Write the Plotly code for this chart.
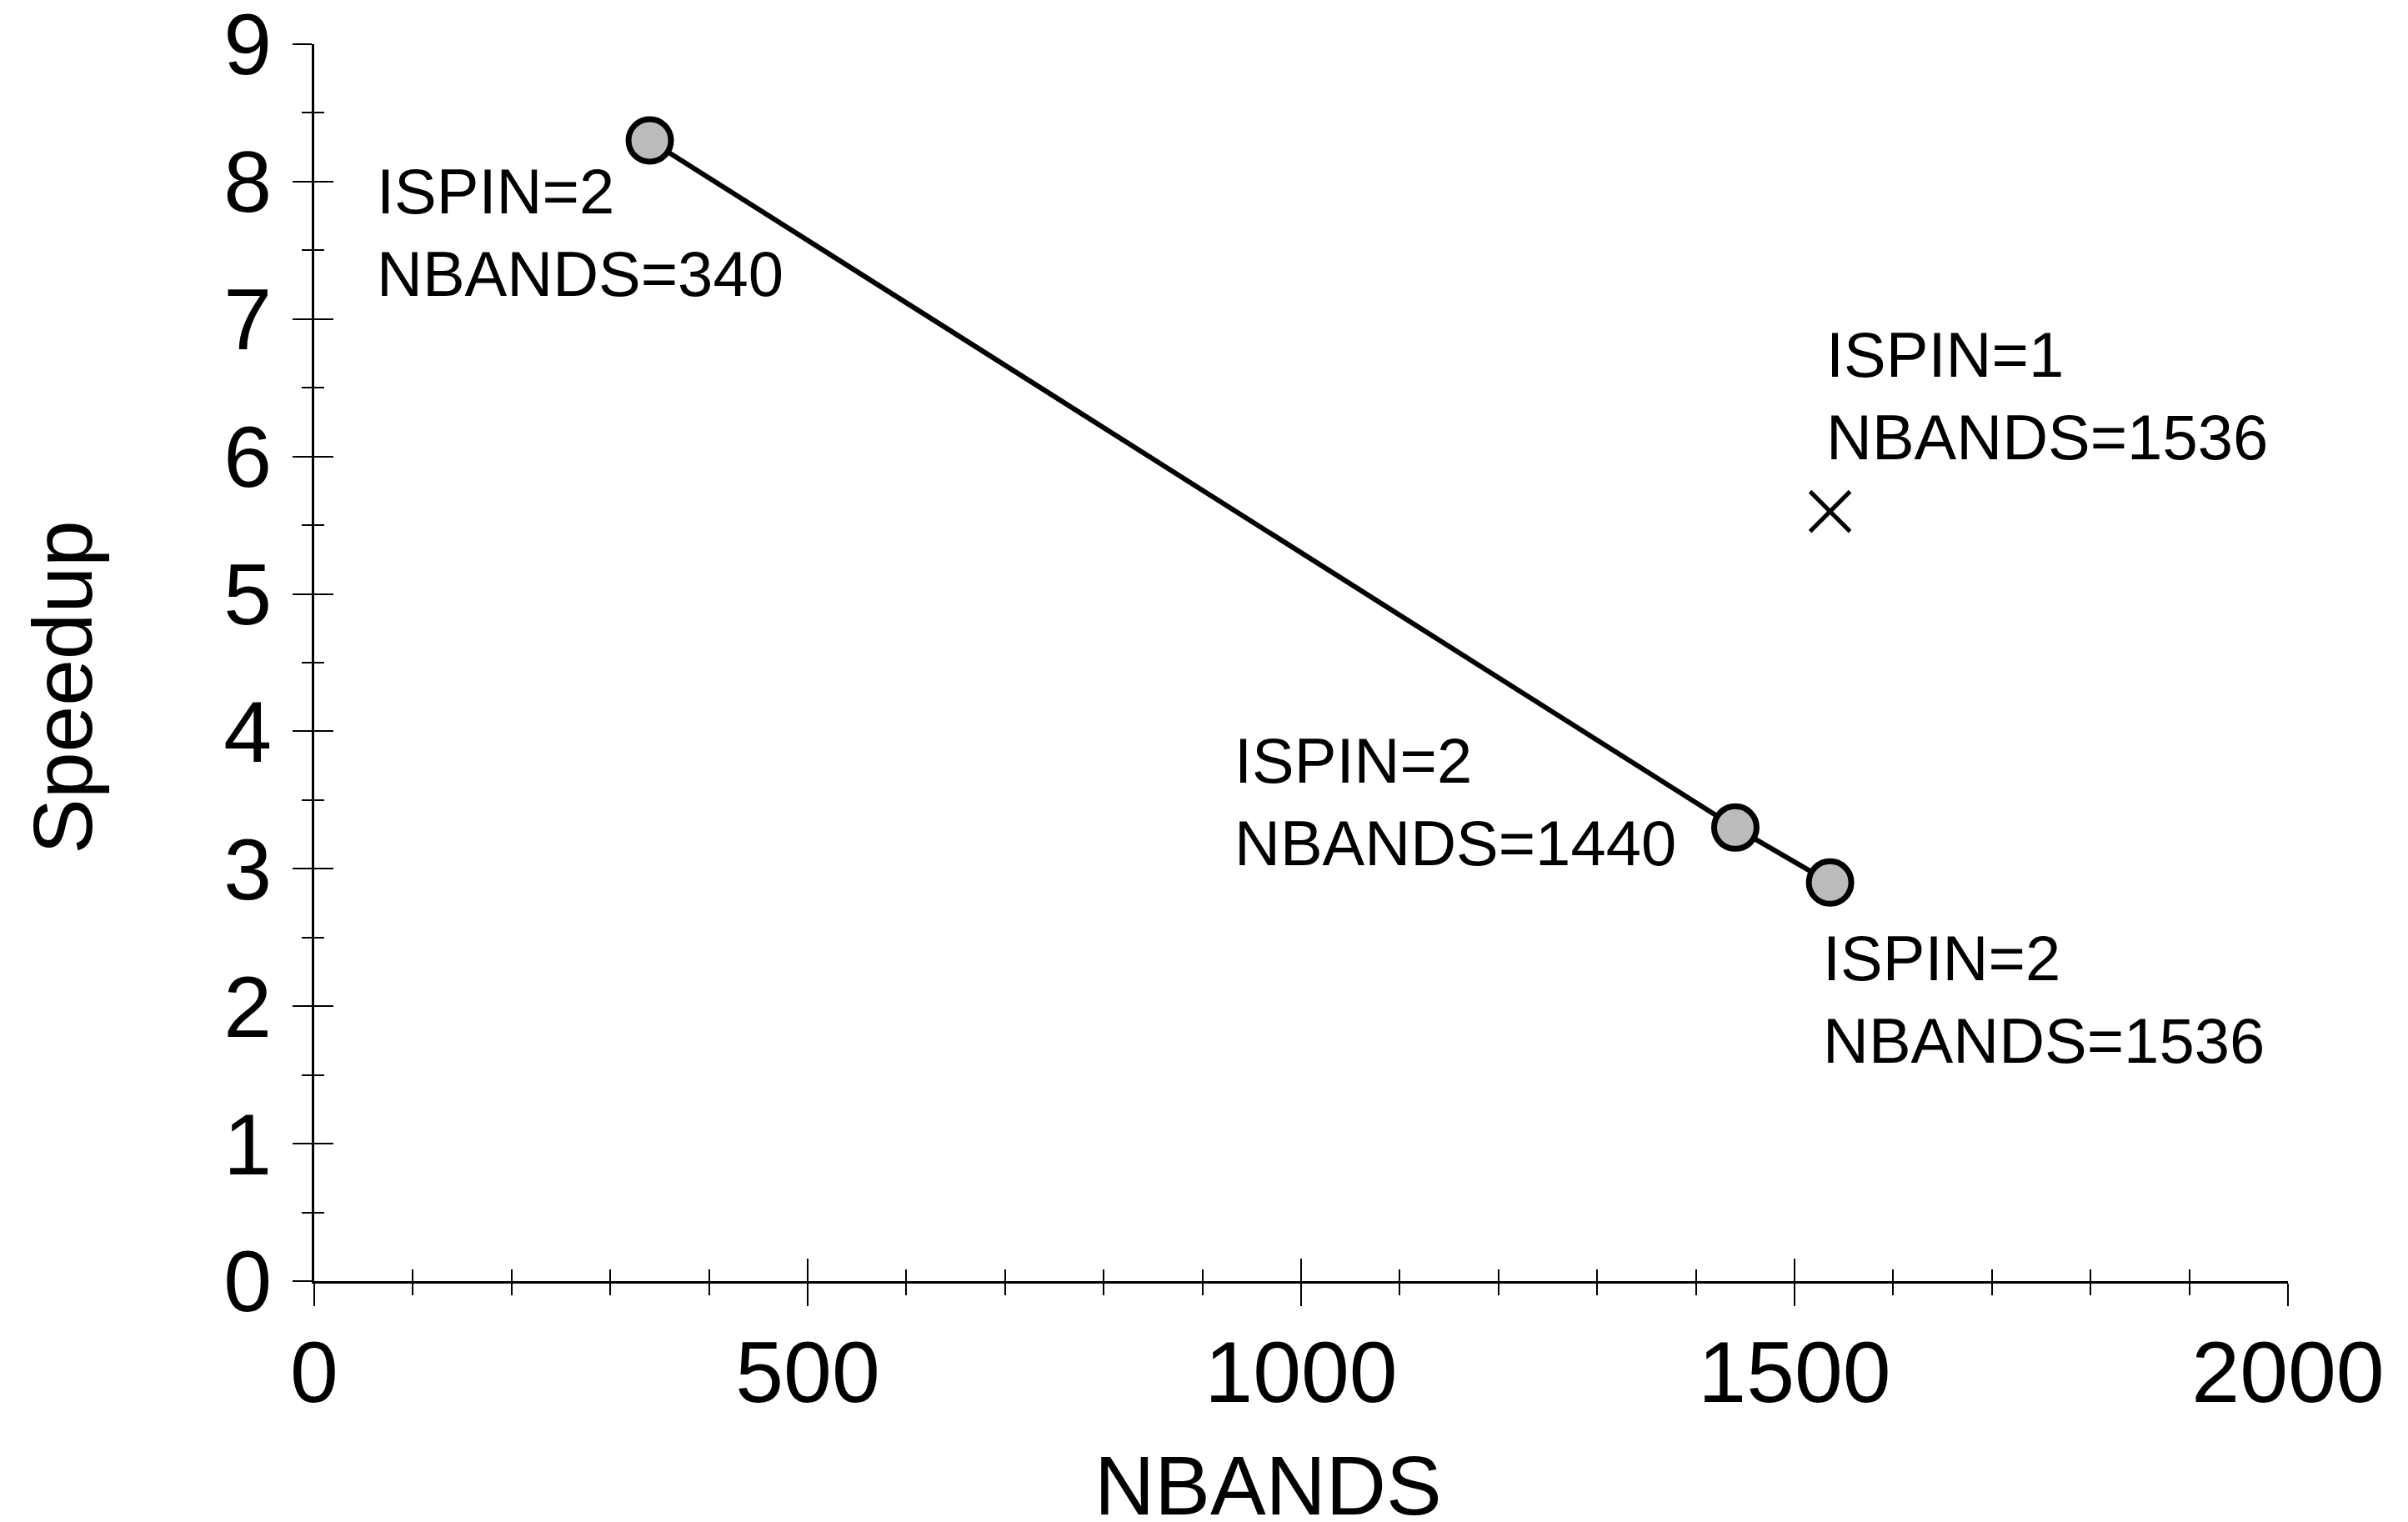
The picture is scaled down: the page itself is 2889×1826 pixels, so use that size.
import plotly.graph_objects as go

# data
nbands_spin2 = [340, 1440, 1536]
speedup_spin2 = [8.3, 3.3, 2.9]
nbands_spin1 = [1536]
speedup_spin1 = [5.6]

label_text = [
    "ISPIN=2<br>NBANDS=340",
    "ISPIN=2<br>NBANDS=1440",
    "ISPIN=1<br>NBANDS=1536",
    "ISPIN=2<br>NBANDS=1536",
]
label_x = [62, 931, 1530, 1527]
label_y = [7.63, 3.49, 6.44, 2.05]

FONT = "Liberation Sans, Arial, Helvetica, sans-serif"

fig = go.Figure()

fig.add_trace(go.Scatter(
    x=nbands_spin2, y=speedup_spin2,
    mode='lines+markers',
    line=dict(color='black', width=6),
    marker=dict(size=51, color='#BBBBBB', line=dict(color='black', width=7)),
    showlegend=False, hoverinfo='skip'
))

fig.add_trace(go.Scatter(
    x=nbands_spin1, y=speedup_spin1,
    mode='markers',
    marker=dict(symbol='x-thin-open', size=48, color='black',
                line=dict(color='black', width=5)),
    showlegend=False, hoverinfo='skip'
))

# invisible copy on a second pair of axes, only there to draw the outward
# half of the crossing ticks
fig.add_trace(go.Scatter(x=nbands_spin2, y=speedup_spin2, xaxis='x2', yaxis='y2',
                         mode='markers', marker=dict(opacity=0),
                         showlegend=False, hoverinfo='skip'))

for txt, x, y in zip(label_text, label_x, label_y):
    fig.add_annotation(
        x=x, y=y, xref='x', yref='y', text=txt, showarrow=False,
        xanchor='left', yanchor='middle', align='left',
        font=dict(family=FONT, size=76, color='black')
    )

# axis titles (placed by hand, as in the reference they sit off-centre)
fig.add_annotation(x=0.4835, y=-0.165, xref='paper', yref='paper', text='NBANDS',
                   showarrow=False, xanchor='center', yanchor='middle',
                   font=dict(family=FONT, size=100, color='black'))
fig.add_annotation(x=-0.1275, y=0.48, xref='paper', yref='paper', text='Speedup',
                   showarrow=False, xanchor='center', yanchor='middle', textangle=-90,
                   font=dict(family=FONT, size=100, color='black'))

common = dict(showgrid=False, zeroline=False, showline=True, automargin=False,
              linecolor='black', linewidth=3, tickcolor='black', tickwidth=2)

fig.update_layout(
    width=2881, height=1818,
    paper_bgcolor='white', plot_bgcolor='white',
    margin=dict(l=369, r=144, t=45, b=289),
    font=dict(family=FONT, color='black'),
    xaxis=dict(range=[0, 2000], dtick=500, tick0=0, ticks='inside', ticklen=27,
               tickfont=dict(size=104), ticklabelstandoff=17,
               ticklabeloverflow='allow',
               minor=dict(dtick=100, ticks='inside', ticklen=14,
                          tickcolor='black', tickwidth=2),
               **common),
    yaxis=dict(range=[0, 9], dtick=1, tick0=0, ticks='inside', ticklen=23,
               tickfont=dict(size=104), ticklabelstandoff=27,
               ticklabeloverflow='allow',
               minor=dict(dtick=0.5, ticks='inside', ticklen=12,
                          tickcolor='black', tickwidth=2),
               **common),
    xaxis2=dict(range=[0, 2000], dtick=500, tick0=0, ticks='outside', ticklen=27,
                overlaying='x', showticklabels=False, anchor='y2',
                minor=dict(dtick=100, ticks='outside', ticklen=14,
                           tickcolor='black', tickwidth=2),
                **common),
    yaxis2=dict(range=[0, 9], dtick=1, tick0=0, ticks='outside', ticklen=23,
                overlaying='y', showticklabels=False, anchor='x2',
                minor=dict(dtick=0.5, ticks='outside', ticklen=12,
                           tickcolor='black', tickwidth=2),
                **common),
)

fig.write_html("out.html")
